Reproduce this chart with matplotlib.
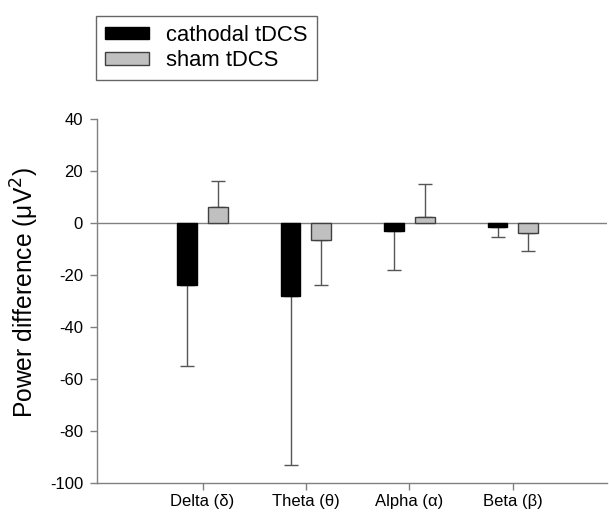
import matplotlib
matplotlib.use("Agg")
import matplotlib.pyplot as plt
import numpy as np

plt.rcParams['font.family'] = ['Liberation Sans', 'DejaVu Sans']
plt.rcParams['axes.unicode_minus'] = False

categories = ["Delta (δ)", "Theta (θ)", "Alpha (α)", "Beta (β)"]
cathodal = [-24, -28, -3, -1.7]
cathodal_err = [31, 65, 15, 3.6]
sham = [6, -6.5, 2.4, -3.7]
sham_err = [10, 17.5, 12.6, 7]
yticks = [-100, -80, -60, -40, -20, 0, 20, 40]

fig = plt.figure(figsize=(6.09, 5.12), dpi=100)
ax = fig.add_axes([97/609, 1-483/512, (607-97)/609, (483-119)/512])

x = np.arange(len(categories))
w = 0.19
off = 0.148
ecol = '#555555'

def one_sided(vals, errs):
    lo = [e if v < 0 else 0 for v, e in zip(vals, errs)]
    hi = [e if v >= 0 else 0 for v, e in zip(vals, errs)]
    return [lo, hi]

ax.axhline(0, color='#808080', lw=1.0, zorder=1)
ax.errorbar(x - off, cathodal, yerr=one_sided(cathodal, cathodal_err), fmt='none',
            ecolor=ecol, elinewidth=1.0, capsize=5, capthick=1.0, zorder=2)
ax.errorbar(x + off, sham, yerr=one_sided(sham, sham_err), fmt='none',
            ecolor=ecol, elinewidth=1.0, capsize=5, capthick=1.0, zorder=2)
b1 = ax.bar(x - off, cathodal, width=w, color='black', edgecolor='black', lw=1, zorder=3,
            label='cathodal tDCS')
b2 = ax.bar(x + off, sham, width=w, color='#c0c0c0', edgecolor='#404040', lw=1, zorder=3,
            label='sham tDCS')

ax.set_xlim(-1.02, 3.91)
ax.set_ylim(-100, 40)
ax.set_yticks(yticks)
ax.set_xticks(x)
ax.set_xticklabels(categories, fontsize=12)
ax.tick_params(axis='y', labelsize=12, length=5, width=1, color='#808080', pad=5)
ax.tick_params(axis='x', length=5, width=1, color='#808080', pad=3)
for s in ['top', 'right']:
    ax.spines[s].set_visible(False)
for s in ['left', 'bottom']:
    ax.spines[s].set_color('#808080')
    ax.spines[s].set_linewidth(1)
ax.set_ylabel('Power difference (μV$^2$)', fontsize=17.7)
ax.yaxis.set_label_coords(-0.11, 0.522)

leg = fig.legend(handles=[b1, b2], loc='upper left', bbox_to_anchor=(96/609, 1-16/512),
                 fontsize=15.8, frameon=True, fancybox=False, edgecolor='#404040',
                 handlelength=2.0, handleheight=0.5, borderaxespad=0, borderpad=0.4,
                 labelspacing=0.2, handletextpad=0.8)
leg.get_frame().set_linewidth(1)

fig.savefig('out.png', dpi=100)
